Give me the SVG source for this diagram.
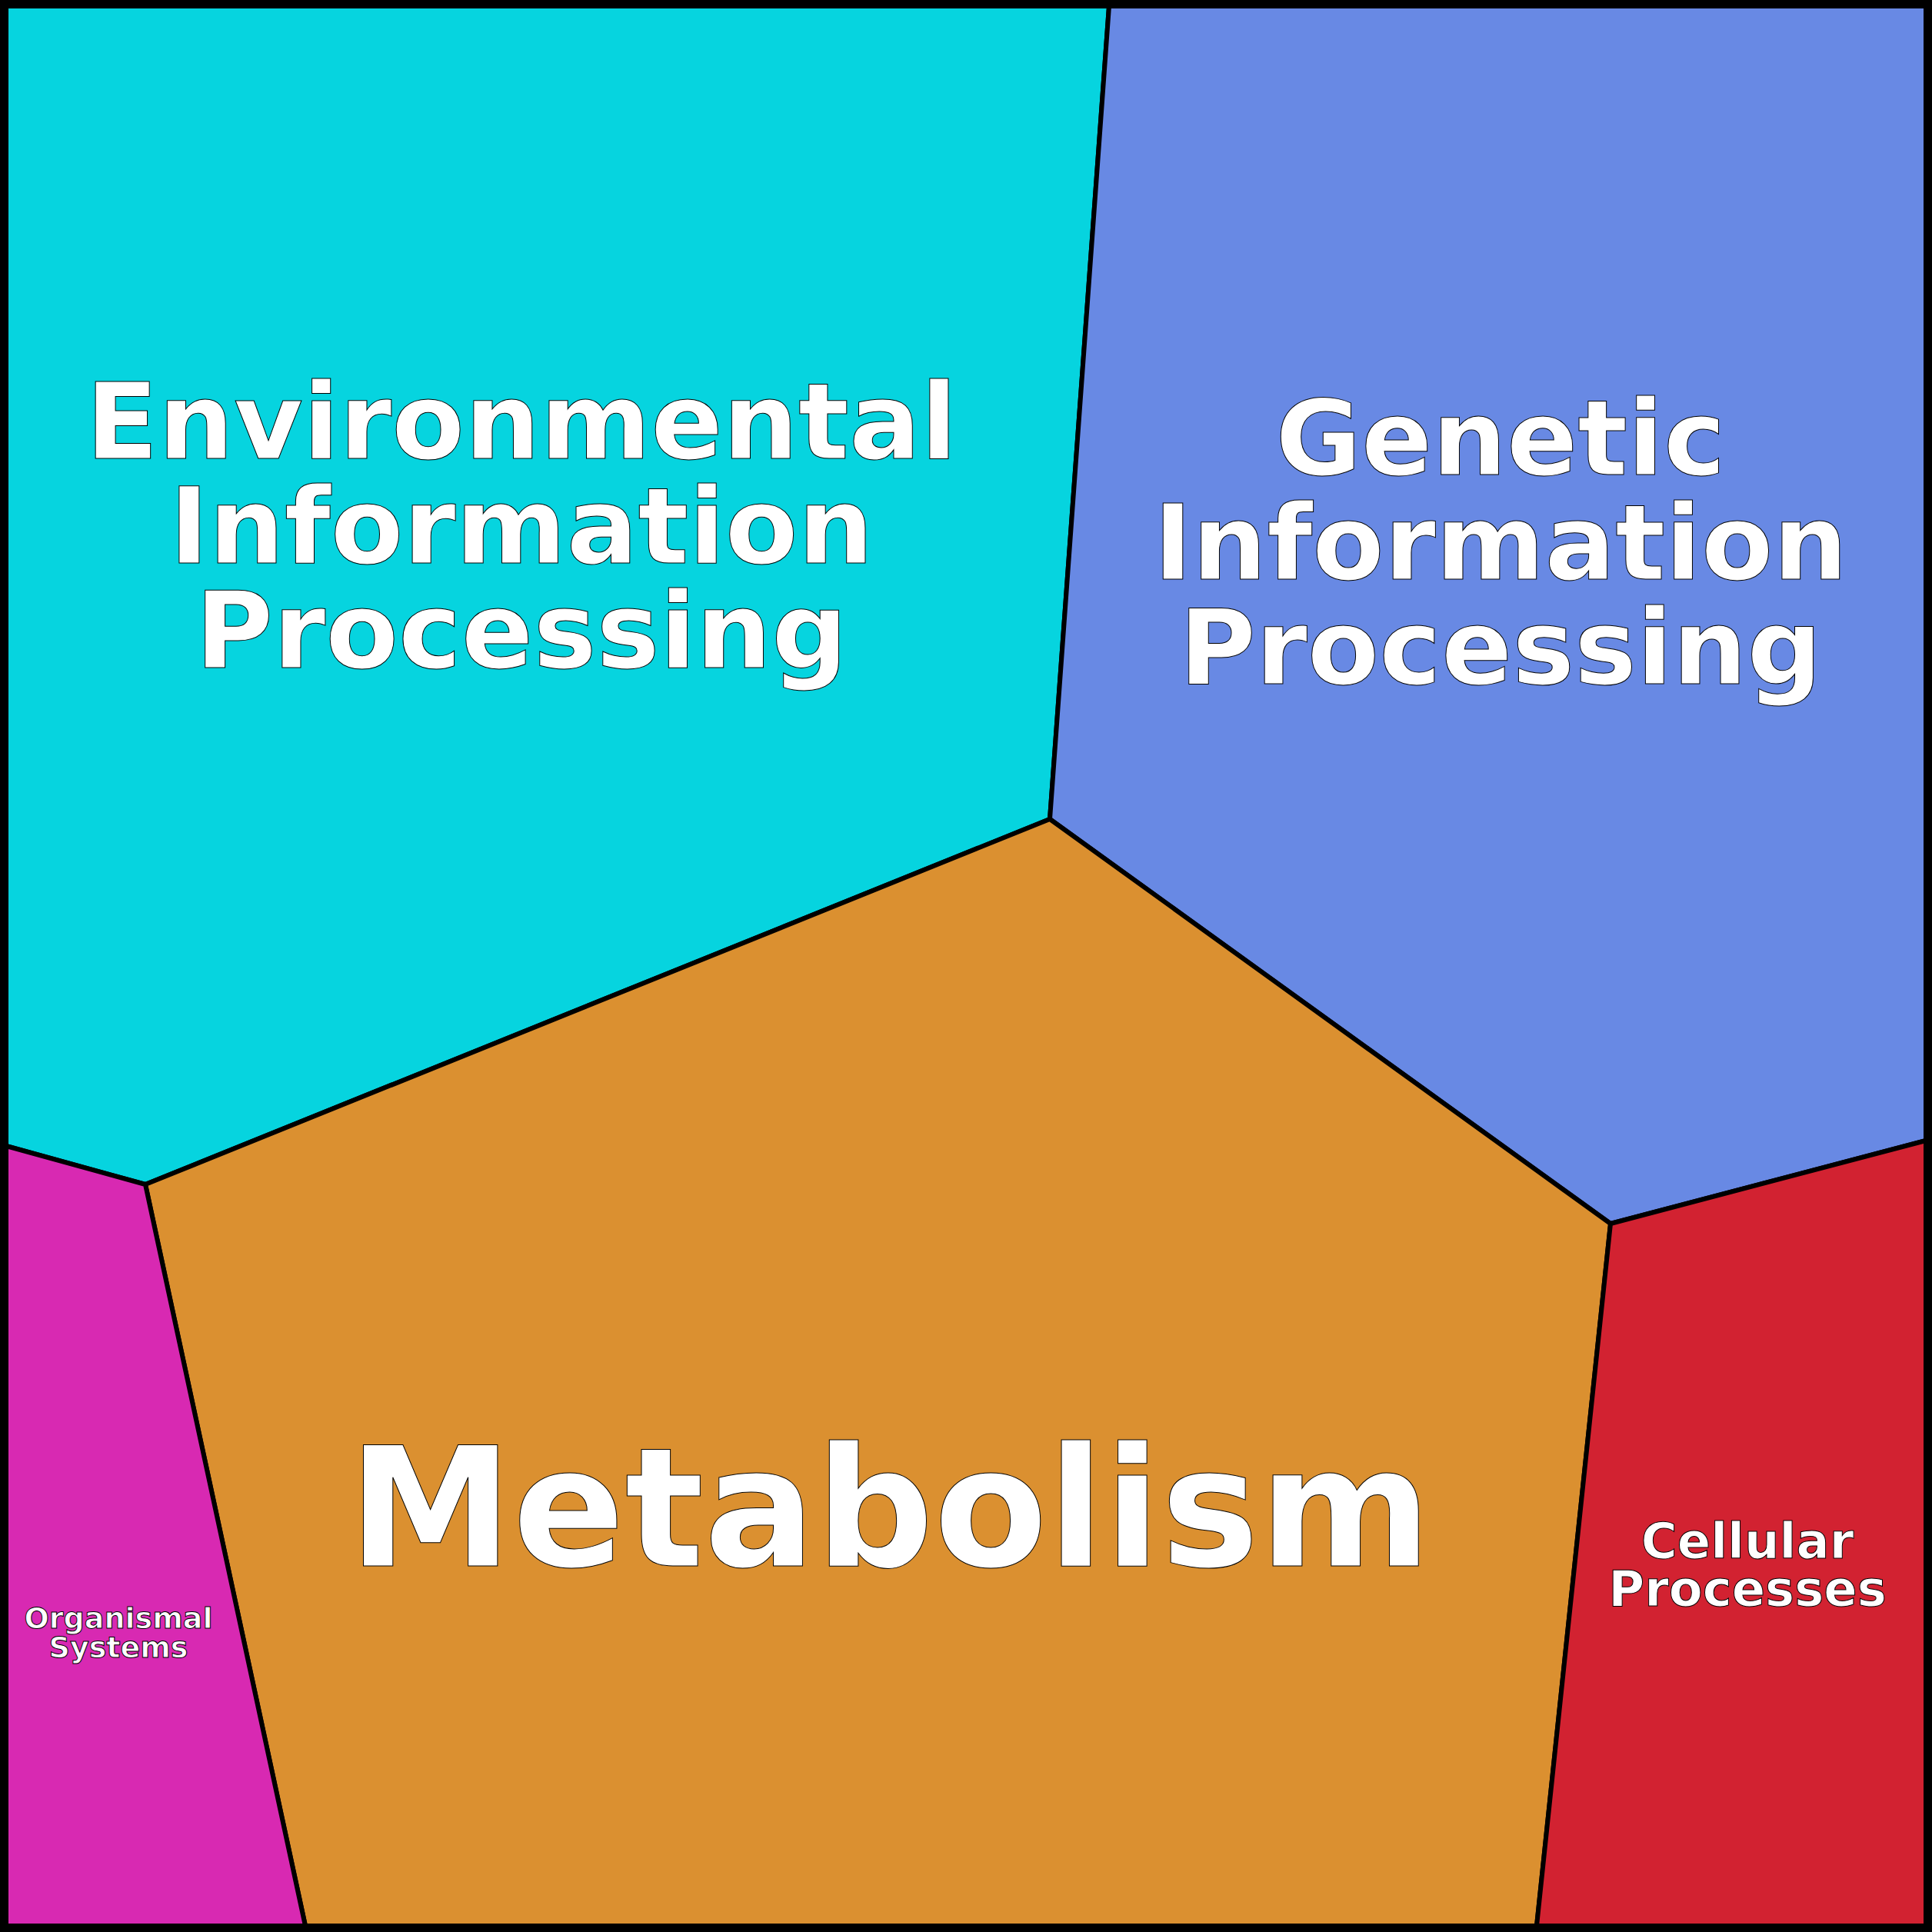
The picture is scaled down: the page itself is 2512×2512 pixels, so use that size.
<svg xmlns="http://www.w3.org/2000/svg" width="2512" height="2512" viewBox="0 0 2512 2512">
<style>
.c{stroke:#000;stroke-width:6;stroke-linejoin:round}
.t{font-family:"DejaVu Sans",sans-serif;font-weight:bold;fill:#fff;stroke:#000;stroke-width:1;text-anchor:middle}
</style>
<g id="env"><polygon class="c" fill="#06d4df" points="8,8 1442,8 1365,1065 189,1540 8,1490"/>
<text class="t" font-size="138"><tspan x="678" y="596">Environmental</tspan><tspan x="678" y="732">Information</tspan><tspan x="678" y="868">Processing</tspan></text></g>
<g id="gen"><polygon class="c" fill="#6889e4" points="1442,8 2504,8 2504,1483 2094,1591 1365,1065"/>
<text class="t" font-size="136"><tspan x="1951" y="617">Genetic</tspan><tspan x="1951" y="753">Information</tspan><tspan x="1951" y="889">Processing</tspan></text></g>
<g id="met"><polygon class="c" fill="#db9030" points="1365,1065 2094,1591 1998,2504 397,2504 189,1540"/>
<text class="t" font-size="215" x="1157" y="2036">Metabolism</text></g>
<g id="org"><polygon class="c" fill="#d829b2" points="8,1490 189,1540 397,2504 8,2504"/>
<text class="t" font-size="38"><tspan x="154" y="2117">Organismal</tspan><tspan x="154" y="2155">Systems</tspan></text></g>
<g id="cell"><polygon class="c" fill="#d22231" points="2094,1591 2504,1483 2504,2504 1998,2504"/>
<text class="t" font-size="64"><tspan x="2272" y="2026">Cellular</tspan><tspan x="2272" y="2088">Processes</tspan></text></g>
<g id="connectors"/>
<rect x="5" y="5" width="2502" height="2502" fill="none" stroke="#000" stroke-width="10"/>
</svg>
